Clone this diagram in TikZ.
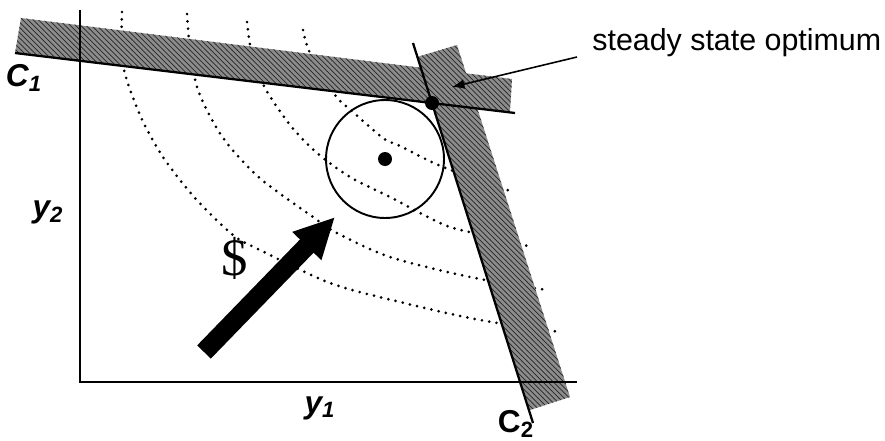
\documentclass[tikz,border=0pt]{standalone}
\usepackage{fontspec}
\setmainfont{Liberation Sans}
\newfontfamily\dollarfont{Liberation Serif}
\usetikzlibrary{arrows.meta,patterns}

\begin{document}
\begin{tikzpicture}[x=0.02cm, y=-0.02cm, font=\fontsize{18}{20}\selectfont\bfseries\itshape,
band/.style={fill=black!45, postaction={pattern=north west lines, pattern color=black!85}},
limit/.style={line width=1.3pt},
axis/.style={line width=1.1pt},
contour/.style={line width=1.7pt, line cap=round, dash pattern=on 0pt off 4.2pt},
spot/.style={circle, fill=black, inner sep=0pt, minimum size=0.28cm},
lbl/.style={inner sep=0pt},
arrow/.style={-{Latex[length=2.5mm, width=2mm]}, line width=0.9pt},
bigarrow/.style={-{Triangle[length=0.81cm, width=0.75cm]}, line width=0.38cm}]
\useasboundingbox (0,0) rectangle (885,440);
\coordinate (org) at (80,382);
\coordinate (ytop) at (80,10);
\coordinate (xend) at (577,382);
\coordinate (c1a) at (15,53);
\coordinate (c1b) at (515,113);
\coordinate (c2a) at (413,43);
\coordinate (c2b) at (533,423);
\coordinate (ctr) at (385,159);
\coordinate (opt) at (432,103);
\coordinate (lead) at (577,57);
\coordinate (tip) at (452,87);
\coordinate (tail) at (204,352);
\coordinate (head) at (335,217);
\draw[contour] plot[smooth] coordinates {(122,12) (123,65) (140,115) (163,157) (195,198) (233,235) (260,250) (330,283) (400,302) (480,320) (560,332)};
\draw[contour] plot[smooth] coordinates {(187,14) (190,50) (197,87) (212,120) (230,147) (262,180) (313,217) (337,233) (390,257) (470,277) (547,290)};
\draw[contour] plot[smooth] coordinates {(247,22) (252,55) (265,88) (290,125) (317,153) (350,177) (390,197) (420,213) (447,226) (473,233) (532,247)};
\draw[contour] plot[smooth] coordinates {(303,30) (310,53) (335,95) (353,112) (383,138) (400,146) (443,167) (513,192)};
\fill[band] (15,53) -- (21,18) -- (512,79) -- (510,112) -- cycle;
\fill[band] (417,57) -- (457,45) -- (570,397) -- (530,410) -- cycle;
\draw[limit] (c1a) -- (c1b);
\draw[limit] (c2a) -- (c2b);
\draw[axis] (ytop) -- (org) -- (xend);
\draw[line width=1.1pt] (ctr) circle[radius=1.18cm];
\node[spot] (ctrdot) at (ctr) {};
\node[spot] (optdot) at (opt) {};
\node[lbl, anchor=west, font=\fontsize{17.3}{20}\selectfont] (ssopt) at (592,43) {steady state optimum};
\draw[arrow] (lead) -- (tip);
\draw[bigarrow] (tail) -- (head);
\node[lbl] (c1lbl) at (24,78) {C\textsubscript{1}};
\node[lbl] (y2lbl) at (48,212) {y\textsubscript{2}};
\node[lbl] (y1lbl) at (320,408) {y\textsubscript{1}};
\node[lbl, font=\fontsize{18}{20}\selectfont\bfseries] (c2lbl) at (516,424) {C\textsubscript{2}};
\node[lbl, font=\dollarfont\fontsize{30}{30}\selectfont] (dollar) at (235,258) {\$};
\end{tikzpicture}
\end{document}
